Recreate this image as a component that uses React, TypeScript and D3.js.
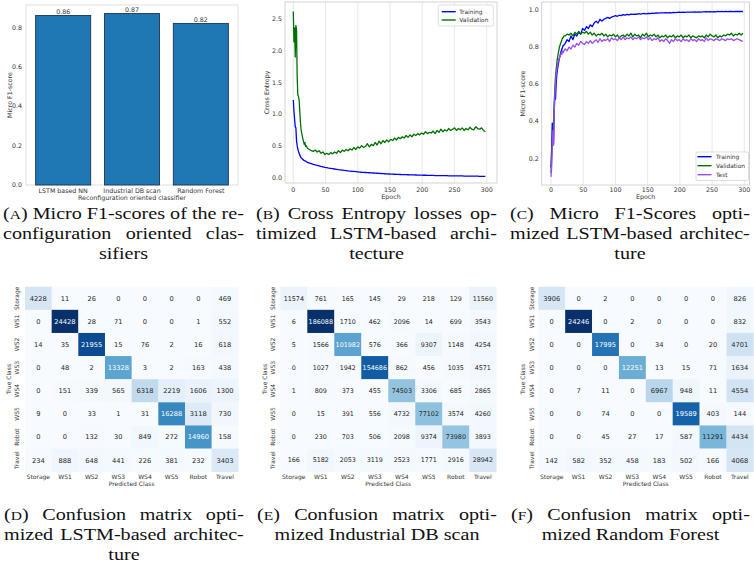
import React from "react";
import * as d3 from "d3";

const SANS = "'DejaVu Sans', sans-serif";
const SERIF_NAME = "Liberation Serif";
const SERIF = `'${SERIF_NAME}', 'DejaVu Serif', serif`;
const INK = "#333";

// (A) micro F1 of the reconfiguration oriented classifiers
const classifiers = ["LSTM based NN", "Industrial DB scan", "Random Forest"];
const microF1 = [0.86, 0.87, 0.82];
const barTicks = [0, 0.2, 0.4, 0.6, 0.8];

// training history of the LSTM: every epoch up to 20, then every third epoch
const epochs = d3.range(0, 21).concat(d3.range(22, 300, 3));
const epochTicks = [0, 50, 100, 150, 200, 250, 300];

const lossTraining = [
  1.22, 1.05, 0.92, 0.8, 0.78, 0.58, 0.5, 0.45, 0.41, 0.38, 0.35, 0.33, 0.31, 0.3, 0.29, 0.28, 0.27, 0.265, 0.26, 0.255, 0.25,
  0.235, 0.225, 0.215, 0.205, 0.196, 0.188, 0.18, 0.172, 0.165, 0.158,
  0.152, 0.146, 0.141, 0.136, 0.131, 0.126, 0.121, 0.117, 0.113, 0.109,
  0.105, 0.101, 0.098, 0.095, 0.092, 0.089, 0.086, 0.083, 0.08, 0.078,
  0.076, 0.074, 0.072, 0.07, 0.068, 0.066, 0.064, 0.062, 0.06, 0.058,
  0.056, 0.054, 0.052, 0.05, 0.049, 0.048, 0.046, 0.045, 0.044, 0.043,
  0.042, 0.041, 0.04, 0.039, 0.038, 0.037, 0.036, 0.035, 0.034, 0.033,
  0.032, 0.032, 0.031, 0.03, 0.03, 0.029, 0.028, 0.028, 0.027, 0.026,
  0.026, 0.025, 0.025, 0.024, 0.024, 0.023, 0.023, 0.022, 0.022, 0.021,
  0.021, 0.02, 0.02, 0.019, 0.019, 0.018, 0.018, 0.017, 0.017, 0.016,
  0.016, 0.015, 0.015,
];
const lossValidation = [
  2.62, 2.14, 2.36, 1.9, 2.4, 2.33, 1.6, 1.3, 1.28, 1.22, 1.05, 0.88, 0.76, 0.7, 0.65, 0.6, 0.56, 0.52, 0.55, 0.49, 0.5,
  0.46, 0.44, 0.42, 0.41, 0.43, 0.4, 0.42, 0.38, 0.4, 0.36,
  0.38, 0.36, 0.39, 0.37, 0.4, 0.38, 0.42, 0.39, 0.43, 0.41,
  0.44, 0.42, 0.45, 0.43, 0.47, 0.44, 0.48, 0.46, 0.5, 0.47,
  0.49, 0.53, 0.48, 0.52, 0.5, 0.55, 0.51, 0.57, 0.53, 0.58,
  0.55, 0.59, 0.56, 0.6, 0.58, 0.62, 0.59, 0.63, 0.61, 0.64,
  0.62, 0.66, 0.63, 0.67, 0.64, 0.68, 0.66, 0.69, 0.67, 0.7,
  0.68, 0.72, 0.69, 0.71, 0.7, 0.73, 0.69, 0.74, 0.71, 0.76,
  0.72, 0.75, 0.73, 0.77, 0.74, 0.76, 0.78, 0.74, 0.77, 0.75,
  0.78, 0.74, 0.77, 0.75, 0.79, 0.76, 0.75, 0.8, 0.77, 0.76,
  0.78, 0.74, 0.72,
];
const f1Training = [
  0.15, 0.25, 0.39, 0.38, 0.28, 0.45, 0.55, 0.52, 0.6, 0.65, 0.68, 0.7, 0.72, 0.74, 0.75, 0.77, 0.78, 0.79, 0.8, 0.81, 0.81,
  0.82, 0.84, 0.83, 0.86, 0.84, 0.87, 0.86, 0.88, 0.87, 0.9,
  0.89, 0.91, 0.9, 0.92, 0.91, 0.93, 0.94, 0.93, 0.95, 0.94,
  0.95, 0.955, 0.96, 0.955, 0.962, 0.965, 0.97, 0.966, 0.972, 0.97,
  0.975, 0.972, 0.976, 0.974, 0.978, 0.976, 0.978, 0.977, 0.98, 0.978,
  0.98, 0.981, 0.979, 0.982, 0.981, 0.983, 0.982, 0.984, 0.983, 0.984,
  0.985, 0.984, 0.986, 0.985, 0.986, 0.985, 0.987, 0.986, 0.987, 0.988,
  0.987, 0.988, 0.987, 0.989, 0.988, 0.989, 0.988, 0.99, 0.989, 0.99,
  0.989, 0.99, 0.99, 0.991, 0.99, 0.991, 0.99, 0.991, 0.99, 0.992,
  0.991, 0.992, 0.991, 0.992, 0.991, 0.992, 0.992, 0.991, 0.992, 0.993,
  0.992, 0.993, 0.992,
];
const f1Validation = [
  0.12, 0.2, 0.3, 0.33, 0.4, 0.5, 0.58, 0.64, 0.68, 0.71, 0.74, 0.76, 0.78, 0.8, 0.81, 0.82, 0.83, 0.84, 0.85, 0.85, 0.86,
  0.86, 0.87, 0.865, 0.875, 0.86, 0.88, 0.87, 0.885, 0.87, 0.88,
  0.875, 0.885, 0.87, 0.88, 0.865, 0.875, 0.86, 0.87, 0.865, 0.875,
  0.86, 0.87, 0.855, 0.865, 0.86, 0.87, 0.855, 0.865, 0.85, 0.86,
  0.865, 0.855, 0.87, 0.86, 0.875, 0.855, 0.87, 0.86, 0.865, 0.85,
  0.87, 0.86, 0.875, 0.855, 0.865, 0.86, 0.87, 0.855, 0.865, 0.85,
  0.86, 0.855, 0.865, 0.85, 0.86, 0.855, 0.865, 0.85, 0.86, 0.855,
  0.865, 0.85, 0.86, 0.855, 0.865, 0.85, 0.86, 0.855, 0.85, 0.86,
  0.855, 0.86, 0.85, 0.865, 0.855, 0.87, 0.86, 0.855, 0.865, 0.85,
  0.86, 0.855, 0.865, 0.86, 0.87, 0.865, 0.875, 0.86, 0.87, 0.865,
  0.875, 0.865, 0.875,
];
const f1Test = [
  0.1, 0.15, 0.28, 0.35, 0.27, 0.45, 0.55, 0.6, 0.65, 0.68, 0.7, 0.72, 0.73, 0.74, 0.75, 0.76, 0.77, 0.76, 0.78, 0.77, 0.78,
  0.79, 0.78, 0.8, 0.79, 0.81, 0.8, 0.82, 0.81, 0.83, 0.82,
  0.815, 0.83, 0.82, 0.835, 0.82, 0.83, 0.84, 0.825, 0.845, 0.83,
  0.84, 0.835, 0.845, 0.83, 0.85, 0.84, 0.845, 0.835, 0.85, 0.84,
  0.855, 0.84, 0.85, 0.845, 0.855, 0.84, 0.85, 0.845, 0.855, 0.84,
  0.85, 0.845, 0.855, 0.84, 0.85, 0.835, 0.845, 0.84, 0.85, 0.83,
  0.84, 0.83, 0.845, 0.835, 0.82, 0.84, 0.83, 0.845, 0.835, 0.84,
  0.83, 0.845, 0.835, 0.84, 0.83, 0.845, 0.835, 0.84, 0.83, 0.845,
  0.835, 0.84, 0.83, 0.85, 0.835, 0.845, 0.84, 0.835, 0.845, 0.84,
  0.835, 0.845, 0.84, 0.835, 0.845, 0.84, 0.845, 0.835, 0.84, 0.845,
  0.84, 0.835, 0.83,
];

// confusion matrices (rows: true class, columns: predicted class)
const classes = ["Storage", "WS1", "WS2", "WS3", "WS4", "WS5", "Robot", "Travel"];
const cmLSTM = [
  [4228, 11, 26, 0, 0, 0, 0, 469],
  [0, 24428, 28, 71, 0, 0, 1, 552],
  [14, 35, 21955, 15, 76, 2, 16, 618],
  [0, 48, 2, 13328, 3, 2, 163, 438],
  [0, 151, 339, 565, 6318, 2219, 1606, 1300],
  [9, 0, 33, 1, 31, 16288, 3118, 730],
  [0, 0, 132, 30, 849, 272, 14960, 158],
  [234, 888, 648, 441, 226, 381, 232, 3403],
];
const cmDBScan = [
  [11574, 761, 165, 145, 29, 218, 129, 11560],
  [6, 186088, 1710, 462, 2096, 14, 699, 3543],
  [5, 1566, 101982, 576, 366, 9307, 1148, 4254],
  [0, 1027, 1942, 154686, 862, 456, 1035, 4571],
  [1, 809, 373, 455, 74503, 3306, 685, 2865],
  [0, 15, 391, 556, 4732, 77102, 3574, 4260],
  [0, 230, 703, 506, 2098, 9374, 73980, 3893],
  [166, 5182, 2053, 3119, 2523, 1771, 2916, 28942],
];
const cmForest = [
  [3906, 0, 2, 0, 0, 0, 0, 826],
  [0, 24246, 0, 2, 0, 0, 0, 832],
  [0, 0, 17995, 0, 34, 0, 20, 4701],
  [0, 0, 0, 12251, 13, 15, 71, 1634],
  [0, 7, 11, 0, 6967, 948, 11, 4554],
  [0, 0, 74, 0, 0, 19589, 403, 144],
  [0, 0, 45, 27, 17, 587, 11291, 4434],
  [142, 582, 352, 458, 183, 502, 166, 4068],
];

const BLUE = "#0000ff";
const GREEN = "#007000";
const PURPLE = "#9a4cf2";

function BarPanel() {
  const left = 26, right = 238, top = 5, bottom = 185;
  const x = d3.scaleLinear().domain([-0.54, 2.54]).range([left, right]);
  const y = d3.scaleLinear().domain([0, 0.9135]).range([bottom, top]);
  const w = x(0.8) - x(0);
  return (
    <g fontFamily={SANS}>
      <rect x={left} y={top} width={right - left} height={bottom - top} fill="none" stroke="#d6d6d6" strokeWidth={0.8} />
      {microF1.map((v, i) => (
        <g key={i}>
          <rect x={x(i) - w / 2} y={y(v)} width={w} height={y(0) - y(v)} fill="#1f77b4" stroke="#1b3550" strokeWidth={0.9} />
          <text x={x(i)} y={y(v) - 1.5} fontSize={6.3} textAnchor="middle" fill={INK}>{v.toFixed(2)}</text>
          <text x={x(i)} y={192.5} fontSize={6.3} textAnchor="middle" fill={INK}>{classifiers[i]}</text>
        </g>
      ))}
      {barTicks.map((t) => (
        <text key={t} x={22} y={y(t) + 2.2} fontSize={6.3} textAnchor="end" fill={INK}>{t.toFixed(1)}</text>
      ))}
      <text x={(left + right) / 2} y={199.5} fontSize={6.3} textAnchor="middle" fill={INK}>Reconfiguration oriented classifier</text>
      <text transform={`translate(11.5,${(top + bottom) / 2}) rotate(-90)`} fontSize={6.3} textAnchor="middle" fill={INK}>Micro F1-score</text>
    </g>
  );
}

type Series = { name: string; values: number[]; color: string };

function HistoryPanel(props: {
  frame: [number, number, number, number];
  xRange: [number, number];
  yDomain: [number, number];
  yRange: [number, number];
  yTicks: number[];
  yLabel: string;
  yLabelX: number;
  series: Series[];
  legend: { x0: number; y0: number; x1: number; y1: number; lineX: number; textX: number; rows: number[] };
}) {
  const [l, t, r, b] = props.frame;
  const x = d3.scaleLinear().domain([0, 300]).range(props.xRange);
  const y = d3.scaleLinear().domain(props.yDomain).range(props.yRange);
  const line = d3.line<number>().x((_, i) => x(epochs[i])).y((d) => y(d));
  const lg = props.legend;
  return (
    <g fontFamily={SANS}>
      {epochTicks.map((e) => (
        <line key={e} x1={x(e)} x2={x(e)} y1={t} y2={b} stroke="#e3e3e3" strokeWidth={0.8} />
      ))}
      <rect x={l} y={t} width={r - l} height={b - t} fill="none" stroke="#c8c8c8" strokeWidth={0.8} />
      {props.series.map((s) => (
        <path key={s.name} d={line(s.values) || ""} fill="none" stroke={s.color} strokeWidth={1.3} strokeLinejoin="round" />
      ))}
      {epochTicks.map((e) => (
        <text key={e} x={x(e)} y={191.5} fontSize={6.3} textAnchor="middle" fill={INK}>{e}</text>
      ))}
      {props.yTicks.map((v) => (
        <text key={v} x={l - 3} y={y(v) + 2.2} fontSize={6.3} textAnchor="end" fill={INK}>{v.toFixed(1)}</text>
      ))}
      <text x={(l + r) / 2} y={199} fontSize={6.3} textAnchor="middle" fill={INK}>Epoch</text>
      <text transform={`translate(${props.yLabelX},${(t + b) / 2}) rotate(-90)`} fontSize={6.3} textAnchor="middle" fill={INK}>{props.yLabel}</text>
      <rect x={lg.x0} y={lg.y0} width={lg.x1 - lg.x0} height={lg.y1 - lg.y0} rx={1.5} fill="#fff" fillOpacity={0.85} stroke="#d0d0d0" strokeWidth={0.7} />
      {props.series.map((s, i) => (
        <g key={s.name}>
          <line x1={lg.lineX} x2={lg.lineX + 14} y1={lg.rows[i]} y2={lg.rows[i]} stroke={s.color} strokeWidth={1.4} />
          <text x={lg.textX} y={lg.rows[i] + 2.1} fontSize={5.9} fill={INK}>{s.name}</text>
        </g>
      ))}
    </g>
  );
}

function luminance(c: string) {
  const rgb = d3.rgb(c);
  const lin = (v: number) => {
    const s = v / 255;
    return s <= 0.03928 ? s / 12.92 : Math.pow((s + 0.055) / 1.055, 2.4);
  };
  return 0.2126 * lin(rgb.r) + 0.7152 * lin(rgb.g) + 0.0722 * lin(rgb.b);
}

function Matrix(props: { data: number[][]; x0: number; x1: number; y0: number; y1: number; labelX: number; titleX: number; fontSize: number }) {
  const { data, x0, x1, y0, y1 } = props;
  const flat = data.flat();
  const color = d3.scaleSequential(d3.interpolateBlues).domain([d3.min(flat)!, d3.max(flat)!]);
  const xb = d3.scaleBand().domain(classes).range([x0, x1]);
  const yb = d3.scaleBand().domain(classes).range([y0, y1]);
  const cw = xb.bandwidth();
  const ch = yb.bandwidth();
  return (
    <g fontFamily={SANS}>
      {data.map((row, i) =>
        row.map((v, j) => {
          const fill = color(v);
          const txt = luminance(fill) > 0.408 ? "#262626" : "#ffffff";
          return (
            <g key={`${i}-${j}`}>
              <rect x={xb(classes[j])!} y={yb(classes[i])!} width={cw + 0.3} height={ch + 0.3} fill={fill} />
              <text x={xb(classes[j])! + cw / 2} y={yb(classes[i])! + ch / 2 + props.fontSize * 0.36} fontSize={props.fontSize} textAnchor="middle" fill={txt}>{v}</text>
            </g>
          );
        })
      )}
      {classes.map((c) => (
        <text key={`x-${c}`} x={xb(c)! + cw / 2} y={479} fontSize={6} textAnchor="middle" fill={INK}>{c}</text>
      ))}
      {classes.map((c) => (
        <text key={`y-${c}`} transform={`translate(${props.labelX},${yb(c)! + ch / 2}) rotate(-90)`} fontSize={6} textAnchor="middle" fill={INK}>{c}</text>
      ))}
      <text x={(x0 + x1) / 2} y={485.5} fontSize={6} textAnchor="middle" fill={INK}>Predicted Class</text>
      <text transform={`translate(${props.titleX},${(y0 + y1) / 2}) rotate(-90)`} fontSize={6} textAnchor="middle" fill={INK}>True Class</text>
    </g>
  );
}

// caption text measurement for justified lines
let measureCtx: CanvasRenderingContext2D | null = null;
function textWidth(s: string, size: number) {
  if (!measureCtx) measureCtx = document.createElement("canvas").getContext("2d");
  if (!measureCtx) return s.length * size * 0.45;
  measureCtx.font = `${size}px "${SERIF_NAME}"`;
  return measureCtx.measureText(s).width;
}

const CAP_FS = 17.5;
const CAP_SC = 13.5;
const CAP_STRETCH = 1.15; // book-face width on top of the narrower installed serif

function Caption(props: { letter: string; first: string; rest: string[]; x0: number; x1: number; y: number; justifySecond: boolean }) {
  const { x0, x1, y } = props;
  const target = (x1 - x0) / CAP_STRETCH;
  const spacing = (natural: number, s: string) => {
    const gaps = (s.match(/ /g) || []).length;
    return gaps ? Math.max(-2, (target - natural) / gaps) : 0;
  };
  const firstFull = `(${props.letter}) ${props.first}`;
  const firstNatural = textWidth("(", CAP_FS) + textWidth(props.letter, CAP_SC) + textWidth(") " + props.first, CAP_FS);
  return (
    <g fontFamily={SERIF} fontSize={CAP_FS} fill="#111">
      <g transform={`translate(${x0},0) scale(${CAP_STRETCH},1)`}>
        <text x={0} y={y} style={{ wordSpacing: `${spacing(firstNatural, firstFull)}px` }}>
          (<tspan fontSize={CAP_SC}>{props.letter}</tspan>) {props.first}
        </text>
        {props.rest.map((line, i) => {
          const justified = i === 0 && props.justifySecond && props.rest.length > 1;
          return justified ? (
            <text key={i} x={0} y={y + 20 * (i + 1)} style={{ wordSpacing: `${spacing(textWidth(line, CAP_FS), line)}px` }}>{line}</text>
          ) : (
            <text key={i} x={target / 2} y={y + 20 * (i + 1)} textAnchor="middle">{line}</text>
          );
        })}
      </g>
    </g>
  );
}

export default function App() {
  return (
    <svg width={754} height={566} style={{ position: "absolute", left: 0, top: 0, background: "#fff" }}>
      <BarPanel />
      <HistoryPanel
        frame={[285, 2, 497, 183]}
        xRange={[293.3, 486.7]}
        yDomain={[0, 2.5]}
        yRange={[177.3, 19]}
        yTicks={[0, 0.5, 1, 1.5, 2, 2.5]}
        yLabel="Cross Entropy"
        yLabelX={268.5}
        series={[
          { name: "Training", values: lossTraining, color: BLUE },
          { name: "Validation", values: lossValidation, color: GREEN },
        ]}
        legend={{ x0: 438.3, y0: 5, x1: 493.3, y1: 26, lineX: 441.7, textX: 459.3, rows: [11.7, 20] }}
      />
      <HistoryPanel
        frame={[541.7, 2, 749.5, 185]}
        xRange={[551, 744.3]}
        yDomain={[0.2, 1.0]}
        yRange={[158.3, 10]}
        yTicks={[0.2, 0.4, 0.6, 0.8, 1.0]}
        yLabel="Micro F1-score"
        yLabelX={525}
        series={[
          { name: "Training", values: f1Training, color: BLUE },
          { name: "Validation", values: f1Validation, color: GREEN },
          { name: "Test", values: f1Test, color: PURPLE },
        ]}
        legend={{ x0: 696, y0: 152, x1: 748.5, y1: 180.5, lineX: 697.5, textX: 716, rows: [156.7, 165.7, 174.7] }}
      />
      <Matrix data={cmLSTM} x0={25} x1={238.3} y0={286.7} y1={471.7} labelX={18.5} titleX={10.5} fontSize={6.7} />
      <Matrix data={cmDBScan} x0={280.3} x1={496.3} y0={286.7} y1={471.7} labelX={275.3} titleX={267} fontSize={6.4} />
      <Matrix data={cmForest} x0={538.3} x1={753.3} y0={286.7} y1={471.7} labelX={533.5} titleX={525.3} fontSize={6.7} />

      <Caption letter="A" first="Micro F1-scores of the re-" rest={["configuration oriented clas-", "sifiers"]} x0={3} x1={244} y={219} justifySecond />
      <Caption letter="B" first="Cross Entropy losses op-" rest={["timized LSTM-based archi-", "tecture"]} x0={256} x1={497} y={219} justifySecond />
      <Caption letter="C" first="Micro F1-Scores opti-" rest={["mized LSTM-based architec-", "ture"]} x0={510} x1={750} y={219} justifySecond />
      <Caption letter="D" first="Confusion matrix opti-" rest={["mized LSTM-based architec-", "ture"]} x0={4} x1={244} y={520} justifySecond />
      <Caption letter="E" first="Confusion matrix opti-" rest={["mized Industrial DB scan"]} x0={257} x1={497} y={520} justifySecond={false} />
      <Caption letter="F" first="Confusion matrix opti-" rest={["mized Random Forest"]} x0={511} x1={750} y={520} justifySecond={false} />
    </svg>
  );
}
